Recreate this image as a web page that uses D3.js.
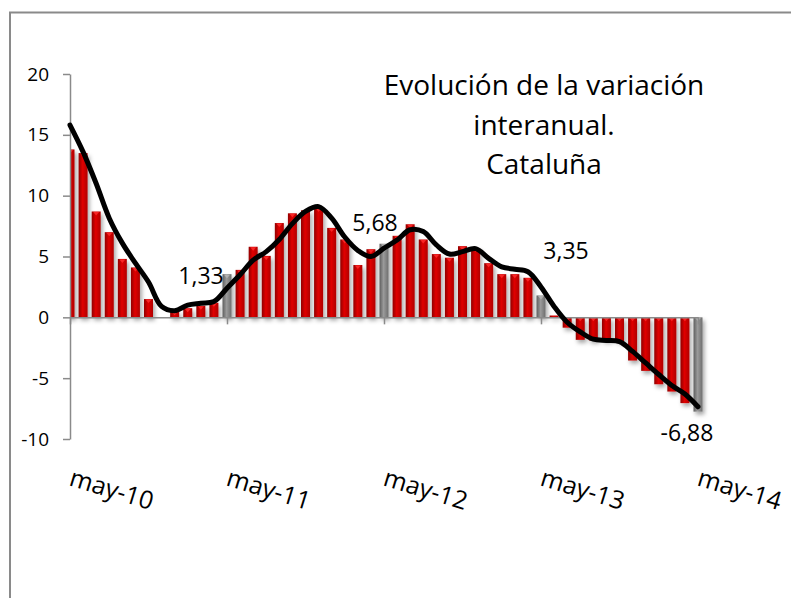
<!DOCTYPE html>
<html>
<head>
<meta charset="utf-8">
<script src="https://cdn.jsdelivr.net/npm/d3@7"></script>
<style>
  body { margin: 0; background: #fff; }
  svg { display: block; }
</style>
</head>
<body>
<div id="chart"></div>
<script>
// monthly categories, may-10 .. may-14
var months = [
  "may-10","jun-10","jul-10","ago-10","sep-10","oct-10","nov-10","dic-10","ene-11","feb-11","mar-11","abr-11",
  "may-11","jun-11","jul-11","ago-11","sep-11","oct-11","nov-11","dic-11","ene-12","feb-12","mar-12","abr-12",
  "may-12","jun-12","jul-12","ago-12","sep-12","oct-12","nov-12","dic-12","ene-13","feb-13","mar-13","abr-13",
  "may-13","jun-13","jul-13","ago-13","sep-13","oct-13","nov-13","dic-13","ene-14","feb-14","mar-14","abr-14",
  "may-14"
];

// monthly interannual variation (bars)
var barValues = [
  13.8, 13.5, 8.7, 7.0, 4.8, 4.1, 1.5, 0.0, 0.5, 0.75, 0.95, 1.2,
  3.55, 3.9, 5.8, 5.05, 7.75, 8.55, 8.8, 9.0, 7.35, 6.4, 4.3, 5.6,
  6.05, 6.7, 7.65, 6.4, 5.2, 4.9, 5.85, 5.7, 4.45, 3.55, 3.55, 3.25,
  1.8, 0.15, -0.85, -1.85, -1.9, -1.9, -1.95, -3.55, -4.4, -5.5, -6.1, -7.05,
  -7.75
];

// smoothed trend (line)
var lineValues = [
  15.8, 13.6, 11.0, 8.15, 6.1, 4.45, 2.9, 0.9, 0.55, 1.0, 1.15, 1.3,
  2.4, 3.5, 4.7, 5.4, 6.4, 7.7, 8.7, 9.1, 8.15, 6.6, 5.5, 5.0,
  5.68, 6.35, 7.2, 7.05, 5.95, 5.2, 5.4, 5.65, 4.85, 4.15, 3.95, 3.75,
  2.5, 0.9, -0.4, -1.2, -1.8, -1.9, -2.0, -2.8, -3.75, -4.7, -5.6, -6.3,
  -7.35
];

var tickLabels = ["may-10", "may-11", "may-12", "may-13", "may-14"];
var highlighted = ["may-11", "may-12", "may-13", "may-14"];
var yTicks = [-10, -5, 0, 5, 10, 15, 20];

var noteCats = ["may-11", "may-12", "may-13", "may-14"];
var noteTexts = ["1,33", "5,68", "3,35", "-6,88"];
var noteValues = [1.33, 5.68, 3.35, -6.88];
// pixel offsets of the note labels from their point
var noteOffsets = [[-26, -26], [-9, -26], [25, -27], [-11, 31]];

var titleLines = ["Evolución de la variación", "interanual.", "Cataluña"];

var svgWidth = 791;
var svgHeight = 598;
var font = "'Open Sans', Lato, sans-serif";

var svg = d3.select("#chart")
  .append("svg")
  .attr("width", svgWidth)
  .attr("height", svgHeight);

svg.append("rect")
  .attr("width", svgWidth)
  .attr("height", svgHeight)
  .attr("fill", "#fff");

// outer frame (runs off the right and bottom edges)
svg.append("rect")
  .attr("x", 10)
  .attr("y", 12.5)
  .attr("width", 800)
  .attr("height", 600)
  .attr("fill", "none")
  .attr("stroke", "#8a8a8a")
  .attr("stroke-width", 2);

var defs = svg.append("defs");

function barGradient(id, dark, mid, light) {
  var g = defs.append("linearGradient")
    .attr("id", id)
    .attr("x1", "0%").attr("x2", "100%")
    .attr("y1", "0%").attr("y2", "0%");
  g.append("stop").attr("offset", "0%").attr("stop-color", dark);
  g.append("stop").attr("offset", "45%").attr("stop-color", light);
  g.append("stop").attr("offset", "100%").attr("stop-color", mid);
}
barGradient("redGrad", "#900000", "#b00000", "#e00000");
barGradient("greyGrad", "#5e5e5e", "#6e6e6e", "#9a9a9a");

var shadow = defs.append("filter")
  .attr("id", "shadow")
  .attr("x", "-50%").attr("y", "-20%")
  .attr("width", "200%").attr("height", "140%");
shadow.append("feDropShadow")
  .attr("dx", 2).attr("dy", 3)
  .attr("stdDeviation", 2)
  .attr("flood-color", "#000")
  .attr("flood-opacity", 0.35);

defs.append("clipPath")
  .attr("id", "plotClip")
  .append("rect")
  .attr("x", 70).attr("y", 0)
  .attr("width", 640).attr("height", svgHeight);

var x = d3.scalePoint()
  .domain(months)
  .range([70, 698]);

var y = d3.scaleLinear()
  .domain([-10, 20])
  .range([439, 74]);

var barWidth = 9;

var plot = svg.append("g").attr("clip-path", "url(#plotClip)");

var bars = plot.append("g").attr("filter", "url(#shadow)");

bars.selectAll("rect")
  .data(months)
  .enter()
  .append("rect")
  .attr("x", d => x(d) - barWidth / 2)
  .attr("width", barWidth)
  .attr("y", (d, i) => y(Math.max(0, barValues[i])))
  .attr("height", (d, i) => Math.abs(y(barValues[i]) - y(0)))
  .attr("fill", d => highlighted.indexOf(d) >= 0 ? "url(#greyGrad)" : "url(#redGrad)");

// small highlight triangle on the top face of each bar
plot.append("g")
  .selectAll("path")
  .data(months)
  .enter()
  .append("path")
  .attr("d", function(d, i) {
    if (Math.abs(barValues[i]) < 0.3) return null;
    var cx = x(d);
    var top = y(Math.max(0, barValues[i]));
    return `M${cx - 3},${top + 0.5}L${cx + 3},${top + 0.5}L${cx},${top + 4}Z`;
  })
  .attr("fill", d => highlighted.indexOf(d) >= 0 ? "#b8b8b8" : "#ff3030")
  .attr("opacity", 0.8);

// y axis
var leftAxis = d3.axisLeft(y)
  .tickValues(yTicks)
  .tickFormat(d => String(d))
  .tickSize(7)
  .tickSizeOuter(0)
  .tickPadding(14);

var yAxis = svg.append("g")
  .attr("transform", "translate(70,0)")
  .call(leftAxis);

yAxis.select(".domain").attr("stroke", "#8a8a8a").attr("stroke-width", 1.5);
yAxis.selectAll(".tick line").attr("stroke", "#8a8a8a").attr("stroke-width", 1.5);
yAxis.selectAll(".tick text")
  .attr("fill", "#000")
  .style("font-family", font)
  .style("font-size", "19px");

// x axis at zero
var bottomAxis = d3.axisBottom(x)
  .tickValues(tickLabels)
  .tickFormat("")
  .tickSize(7)
  .tickSizeOuter(0);

var xAxis = svg.append("g")
  .attr("transform", `translate(0,${y(0)})`)
  .call(bottomAxis);

xAxis.select(".domain").attr("stroke", "#8a8a8a").attr("stroke-width", 1.5);
xAxis.selectAll(".tick line").attr("stroke", "#8a8a8a").attr("stroke-width", 1.5);

// rotated category labels
svg.append("g")
  .selectAll("text")
  .data(tickLabels)
  .enter()
  .append("text")
  .attr("transform", d => `translate(${x(d) - 2},${485}) rotate(17)`)
  .attr("text-anchor", "start")
  .style("font-family", font)
  .style("font-size", "25px")
  .attr("fill", "#000")
  .text(d => d);

// smoothed trend line
var line = d3.line()
  .x((d, i) => x(months[i]))
  .y(d => y(d))
  .curve(d3.curveCatmullRom.alpha(0.5));

svg.append("path")
  .datum(lineValues)
  .attr("d", line)
  .attr("fill", "none")
  .attr("stroke", "#000")
  .attr("stroke-width", 5)
  .attr("stroke-linejoin", "round")
  .attr("stroke-linecap", "round");

// value notes
svg.append("g")
  .selectAll("text")
  .data(noteCats)
  .enter()
  .append("text")
  .attr("x", (d, i) => x(d) + noteOffsets[i][0])
  .attr("y", (d, i) => y(noteValues[i]) + noteOffsets[i][1])
  .attr("text-anchor", "middle")
  .attr("dominant-baseline", "central")
  .style("font-family", font)
  .style("font-size", "23px")
  .attr("fill", "#000")
  .text((d, i) => noteTexts[i]);

// title
svg.append("g")
  .selectAll("text")
  .data(titleLines)
  .enter()
  .append("text")
  .attr("x", 544)
  .attr("y", (d, i) => 84 + i * 39.5)
  .attr("text-anchor", "middle")
  .attr("dominant-baseline", "central")
  .style("font-family", font)
  .style("font-size", "28px")
  .attr("fill", "#000")
  .text(d => d);
</script>
</body>
</html>
